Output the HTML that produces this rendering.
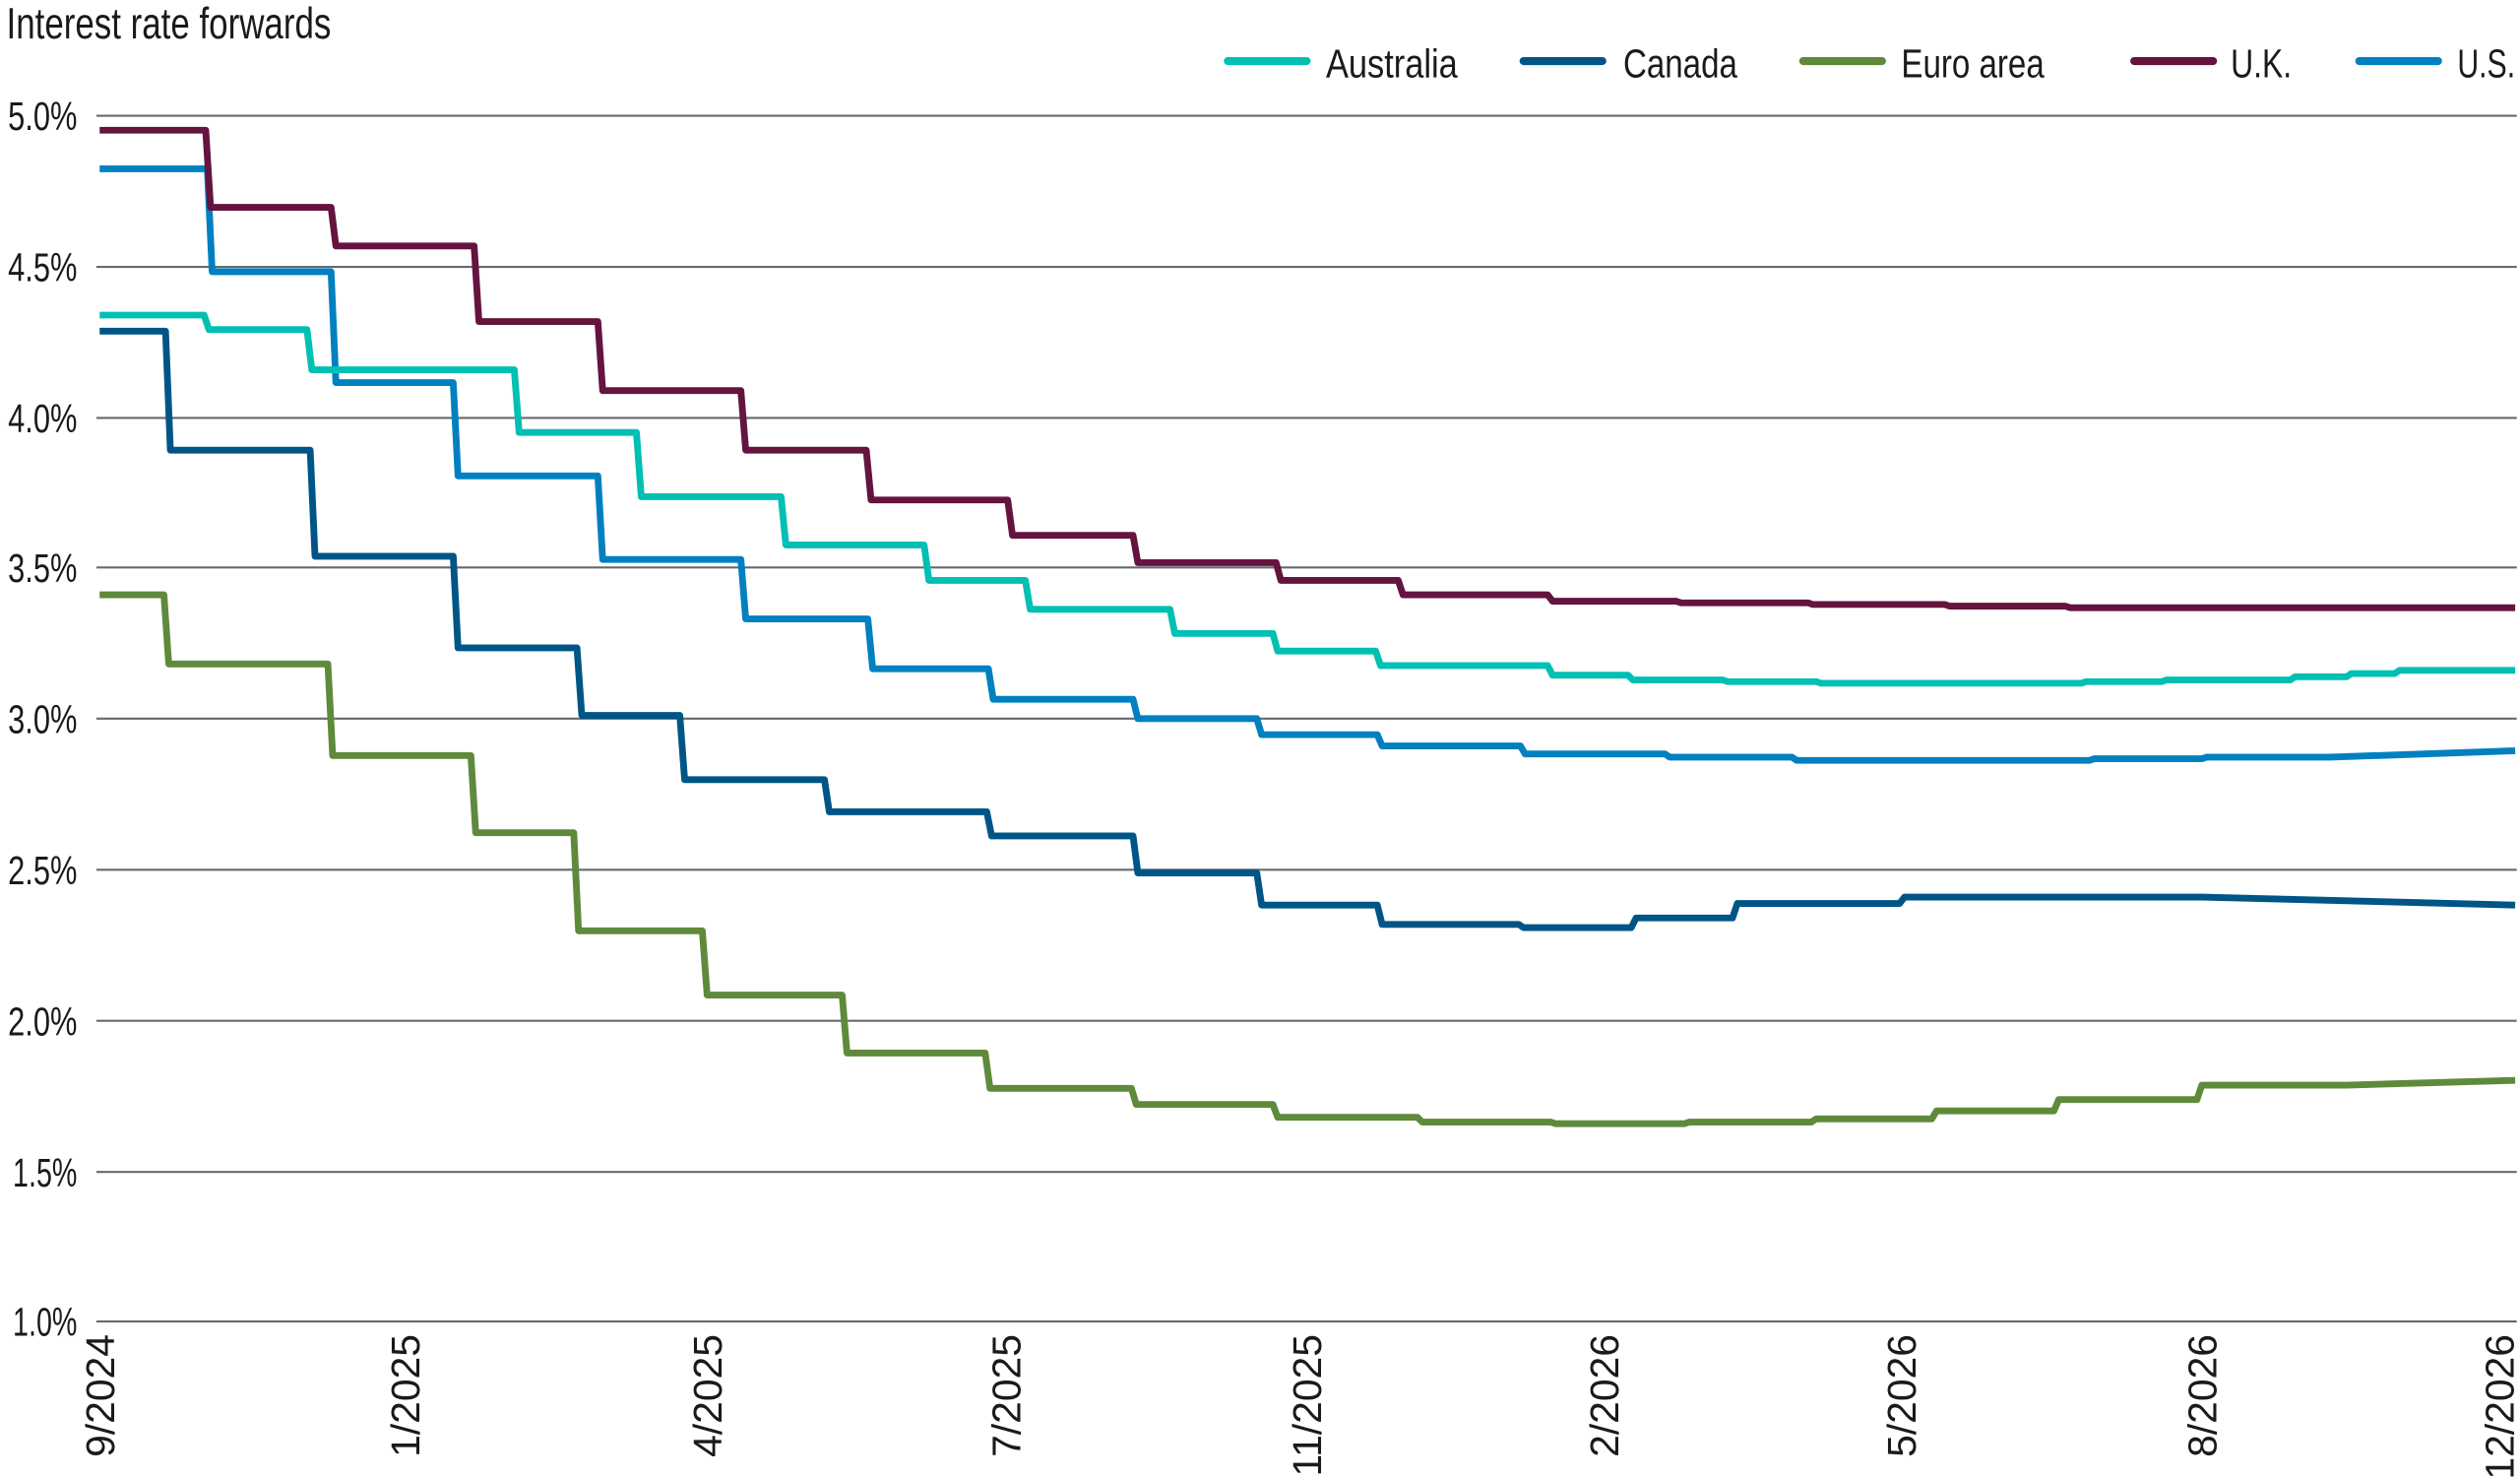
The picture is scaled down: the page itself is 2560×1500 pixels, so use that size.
<!DOCTYPE html>
<html><head><meta charset="utf-8"><style>
html,body{margin:0;padding:0;background:#fff;}
svg{display:block;}
text{font-family:"Liberation Sans Narrow","Liberation Sans",sans-serif;fill:#1a1a1a;}
</style></head><body>
<svg id="s" width="2560" height="1500" viewBox="0 0 1568 918.75" preserveAspectRatio="none" xmlns="http://www.w3.org/2000/svg">
<text x="4" y="24" font-size="27" textLength="202" lengthAdjust="spacingAndGlyphs">Interest rate forwards</text>
<g stroke="#666a70" stroke-width="1.3">
<line x1="60" x2="1566" y1="72" y2="72"/><line x1="60" x2="1566" y1="166" y2="166"/>
<line x1="60" x2="1566" y1="260" y2="260"/><line x1="60" x2="1566" y1="353" y2="353"/>
<line x1="60" x2="1566" y1="447" y2="447"/><line x1="60" x2="1566" y1="541" y2="541"/>
<line x1="60" x2="1566" y1="635" y2="635"/><line x1="60" x2="1566" y1="729" y2="729"/>
<line x1="60" x2="1566" y1="822" y2="822"/>
</g>
<g font-size="25" text-anchor="end">
<text x="48" y="81" textLength="43" lengthAdjust="spacingAndGlyphs">5.0%</text>
<text x="48" y="175" textLength="43" lengthAdjust="spacingAndGlyphs">4.5%</text>
<text x="48" y="269" textLength="43" lengthAdjust="spacingAndGlyphs">4.0%</text>
<text x="48" y="362" textLength="43" lengthAdjust="spacingAndGlyphs">3.5%</text>
<text x="48" y="456" textLength="43" lengthAdjust="spacingAndGlyphs">3.0%</text>
<text x="48" y="550" textLength="43" lengthAdjust="spacingAndGlyphs">2.5%</text>
<text x="48" y="644" textLength="43" lengthAdjust="spacingAndGlyphs">2.0%</text>
<text x="48" y="738" textLength="40" lengthAdjust="spacingAndGlyphs">1.5%</text>
<text x="48" y="831" textLength="40" lengthAdjust="spacingAndGlyphs">1.0%</text>
</g>
<g font-size="25" id="xl"></g>
<g stroke-width="5" stroke-linecap="round">
<line x1="764" x2="813" y1="38" y2="38" stroke="#00bfb3"/>
<line x1="948" x2="997" y1="38" y2="38" stroke="#005587"/>
<line x1="1122" x2="1171" y1="38" y2="38" stroke="#5f8a3b"/>
<line x1="1328" x2="1377" y1="38" y2="38" stroke="#64143f"/>
<line x1="1468" x2="1517" y1="38" y2="38" stroke="#0080c0"/>
</g>
<g font-size="25">
<text x="825" y="48" textLength="82" lengthAdjust="spacingAndGlyphs">Australia</text>
<text x="1010" y="48" textLength="71" lengthAdjust="spacingAndGlyphs">Canada</text>
<text x="1183" y="48" textLength="89" lengthAdjust="spacingAndGlyphs">Euro area</text>
<text x="1388" y="48" textLength="38" lengthAdjust="spacingAndGlyphs">U.K.</text>
<text x="1529" y="48" textLength="36" lengthAdjust="spacingAndGlyphs">U.S.</text>
</g>
<g id="ser" fill="none" stroke-width="4.2" stroke-linejoin="round"></g>
</svg>
<script>
var NS="http://www.w3.org/2000/svg";
var xl=document.getElementById("xl");
[["9/2024",62],["1/2025",252],["4/2025",440],["7/2025",626],["11/2025",813],["2/2026",998],["5/2026",1183],["8/2026",1370],["12/2026",1555]].forEach(function(a){
 var t=document.createElementNS(NS,"text");t.textContent=a[0];
 t.setAttribute("text-anchor","end");
 t.setAttribute("transform","translate("+(a[1]+9)+",830) rotate(-90)");
 xl.appendChild(t);});
function step(seg,end){
 var d="M62,"+seg[0][0];
 for(var i=0;i<seg.length;i++){
  var y=seg[i][0],x=seg[i][1];
  d+=" L"+x+","+y;
  if(i+1<seg.length){d+=" L"+(x+3)+","+seg[i+1][0];}
 }
 if(end) d+=" L1565,"+end;
 return d;}
var S=[
["#0080c0",[[105,129],[169,206],[238,282],[296,372],[348,461],[385,540],[416,615],[435,705],[447,782],[457,857],[464,946],[469,1036],[471,1115],[473,1300],[472,1370],[471,1450]],467],
["#64143f",[[81,128],[129,206],[153,295],[200,372],[243,461],[280,539],[311,627],[333,705],[350,794],[361,870],[370,963],[374,1043],[375,1125],[376,1210],[377,1285],[378,1565]],0],
["#00bfb3",[[196,127],[205,191],[230,320],[269,396],[309,486],[339,575],[361,638],[379,728],[394,792],[405,856],[414,963],[420,1013],[423,1072],[424,1130],[425,1295],[424,1345],[423,1425],[421,1460],[419,1490],[417,1565]],0],
["#005587",[[206,103],[280,193],[346,282],[403,359],[445,423],[485,513],[505,614],[520,705],[543,782],[563,857],[575,945],[577,1015],[571,1078],[562,1182],[558,1370]],563],
["#5f8a3b",[[370,102],[413,204],[470,293],[518,357],[579,437],[619,524],[655,613],[677,704],[687,792],[695,882],[698,965],[699,1048],[698,1127],[696,1202],[691,1278],[684,1367],[675,1460]],672]
];
var g=document.getElementById("ser");
S.forEach(function(s){var p=document.createElementNS(NS,"path");p.setAttribute("d",step(s[1],s[2]));p.setAttribute("stroke",s[0]);g.appendChild(p);});
</script>
</body></html>
